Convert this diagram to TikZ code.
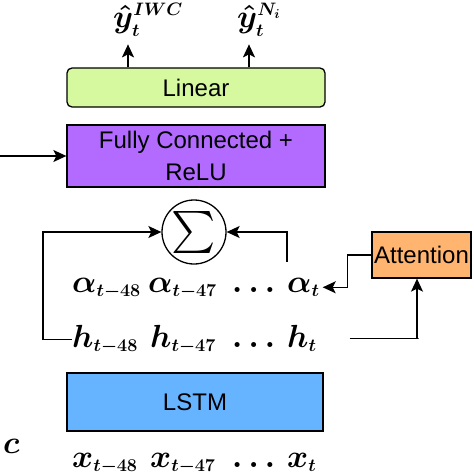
\documentclass[tikz,border=0pt]{standalone}
\usepackage{fix-cm}
\usepackage{fontspec}
\usepackage{amsmath}
\newfontfamily\boxfont{Liberation Sans}
\usetikzlibrary{arrows.meta}
\DeclareMathSizes{32}{32}{18}{13}

\definecolor{linGreen}{HTML}{D6F9A0}
\definecolor{fcPurple}{HTML}{B36BFF}
\definecolor{lstmBlue}{HTML}{66B3FF}
\definecolor{attOrange}{HTML}{FFB570}

\begin{document}
\begin{tikzpicture}[x=1pt,y=-1pt,
  layer/.style={draw,line width=1.3pt,inner sep=0pt,font=\boxfont\fontsize{24}{32}\selectfont},
  sym/.style={inner sep=0pt,anchor=base west,font=\fontsize{32}{36}\selectfont\boldmath},
  wire/.style={line width=1.3pt},
  flow/.style={wire,-{Stealth[length=13pt,width=12pt,inset=3pt]}}]
\useasboundingbox (0,0) rectangle (474,474);

% layers
\node[layer,fill=linGreen,rounded corners=5pt,minimum width=258,minimum height=39] (lin) at (196,87.5) {Linear};
\node[layer,fill=fcPurple,minimum width=258,minimum height=62,align=center] (fc) at (196,156) {Fully Connected +\\ReLU};
\node[layer,fill=lstmBlue,minimum width=256,minimum height=58] (lstm) at (195,402) {LSTM};
\node[layer,fill=attOrange,minimum width=99,minimum height=46] (att) at (421.5,255) {Attention};
\node[draw,circle,line width=1.3pt,minimum size=64,inner sep=0pt] (sig) at (194,232) {\scalebox{4.2}{$\sum$}};

% outputs
\node[sym] (yiwc) at (113,27) {$\hat{y}_t^{IWC}$};
\node[sym] (yni) at (237,27) {$\hat{y}_t^{N_i}$};

% weights, states, inputs
\node[sym] (a48) at (72,292) {$\alpha_{t-48}$};
\node[sym] (a47) at (148,292) {$\alpha_{t-47}$};
\node[sym] (adots) at (232,292) {$\dots$};
\node[sym] (at) at (287,292) {$\alpha_t$};

\node[sym] (h48) at (72,347) {$h_{t-48}$};
\node[sym] (h47) at (150,347) {$h_{t-47}$};
\node[sym] (hdots) at (232,347) {$\dots$};
\node[sym] (ht) at (287,347) {$h_t$};

\node[sym] (x48) at (72,467) {$x_{t-48}$};
\node[sym] (x47) at (150,467) {$x_{t-47}$};
\node[sym] (xdots) at (232,467) {$\dots$};
\node[sym] (xt) at (287,467) {$x_t$};

\node[sym] (cc) at (3,453) {$c$};

\coordinate (fcin) at (0,156);
\coordinate (aup) at (287,262);

% connectors
\draw[flow] ([xshift=-68]lin.north) -- ++(0,-23);
\draw[flow] ([xshift=53]lin.north) -- ++(0,-23);
\draw[flow] (fcin) -- (fc.west);
\draw[flow] (h48.west) -- ++(-29,0) |- (sig.west);
\draw[flow] (aup) |- (sig.east);
\draw[flow] (att.west) -- ++(-24,0) |- ([xshift=3]at.east);
\draw[flow] (ht.east) ++(33,0) -- ++(69,0) -| ([xshift=-4.5]att.south);
\end{tikzpicture}
\end{document}
